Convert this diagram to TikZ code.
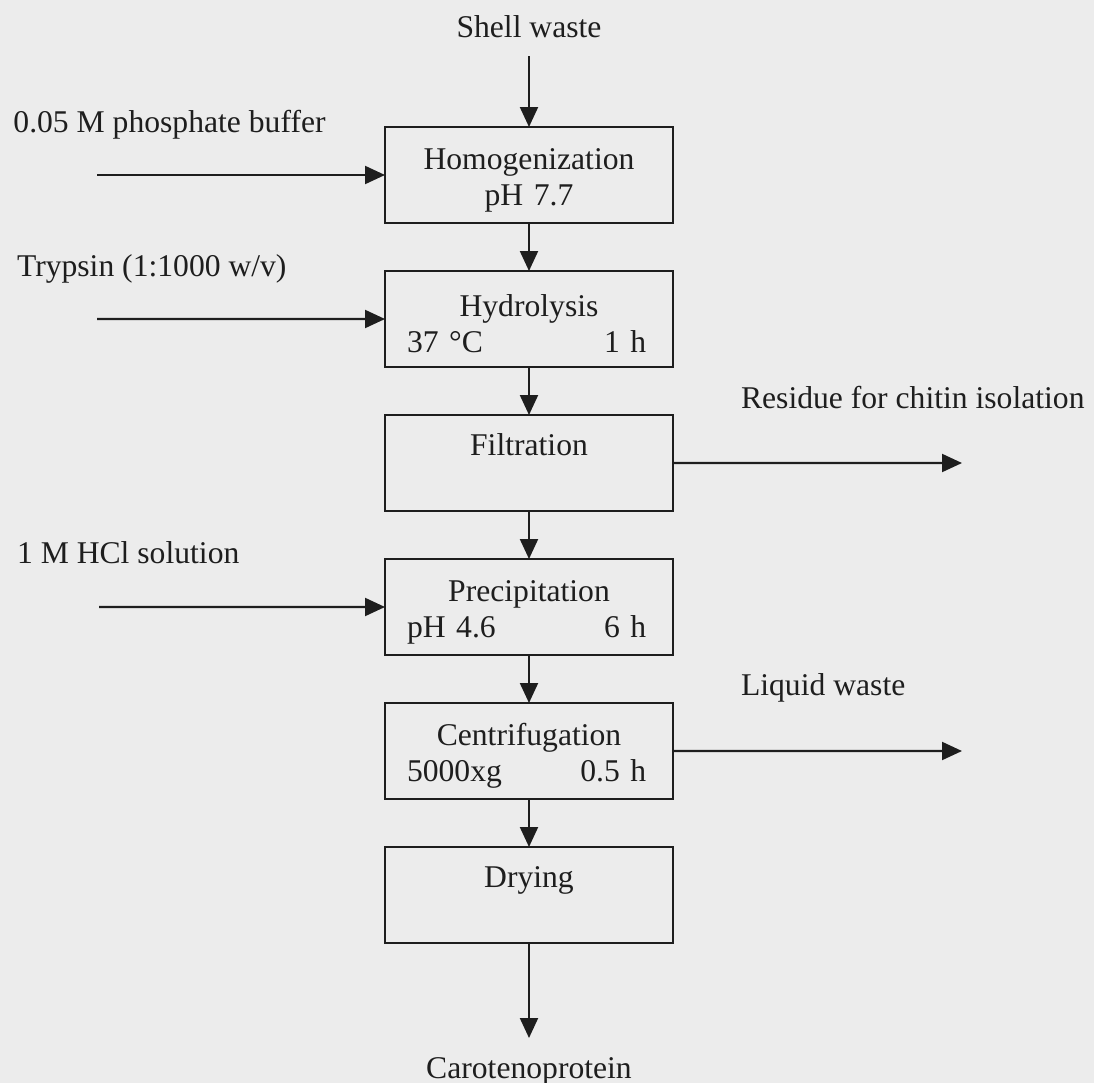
\documentclass[tikz,border=0pt]{standalone}
\usepackage{fontspec}
\setmainfont{Liberation Serif}
\usetikzlibrary{positioning,arrows.meta}
\definecolor{paper}{RGB}{236,236,236}
\definecolor{ink}{RGB}{30,30,30}
\newcommand{\splitrow}[2]{\makebox[\linewidth]{#1\hfill#2\hspace*{0.12cm}}}

\begin{document}
\begin{tikzpicture}[font=\fontsize{22.5}{25.5}\selectfont, node distance=1.2cm, color=ink, line width=1.5pt, >={Triangle[length=0.5cm,width=0.45cm]}]
    \tikzstyle{stage}=[rectangle, draw, line width=1.8pt, outer sep=0pt, minimum width=7.2cm, minimum height=2.4cm, text width=6.1cm, align=center, execute at begin node=\rule{0pt}{0.78cm}]
    \tikzstyle{flow}=[->]
    \tikzstyle{feed}=[inner sep=0pt, anchor=base west]
    \tikzstyle{ends}=[inner sep=0pt, anchor=base]

    \path[use as bounding box, fill=paper] (0,0) rectangle (27.35,-27.075);

% Nodes
    % Process steps
    \node[stage] (homog) at (13.225,-4.375) {Homogenization\\pH 7.7};
    \node[stage, below=of homog] (hydro) {Hydrolysis\\\splitrow{37 °C}{1 h}};
    \node[stage, below=of hydro] (filt) {Filtration\\\strut};
    \node[stage, below=of filt] (prec) {Precipitation\\\splitrow{pH 4.6}{6 h}};
    \node[stage, below=of prec] (cent) {Centrifugation\\\splitrow{5000xg}{0.5 h}};
    \node[stage, below=of cent] (dry) {Drying\\\strut};

    % Start and product
    \node[ends] (shell) at (13.225,-0.925) {Shell waste};
    \node[ends] (carot) at (13.225,-26.95) {Carotenoprotein};

    % Inputs on the left
    \node[feed] (buffer) at (0.31,-3.3) {0.05 M phosphate buffer};
    \node[feed] (trypsin) at (0.4,-6.9) {Trypsin (1:1000 w/v)};
    \node[feed] (hcl) at (0.4,-14.075) {1 M HCl solution};
    \coordinate (bufferin) at (2.425,-4.375);
    \coordinate (trypsinin) at (2.425,-7.975);
    \coordinate (hclin) at (2.475,-15.175);

    % Outputs on the right
    \node[feed] (residue) at (18.5,-10.2) {Residue for chitin isolation};
    \node[feed] (liquid) at (18.5,-17.375) {Liquid waste};
    \coordinate (residueout) at (24.05,-11.575);
    \coordinate (liquidout) at (24.05,-18.775);

% Paths
    % Main line
    \draw[flow, shorten <=0.45cm] (shell) -- (homog);
    \foreach \a/\b in {homog/hydro, hydro/filt, filt/prec, prec/cent, cent/dry}
        \draw[flow] (\a) -- (\b);
    \draw[flow, shorten >=0.45cm] (dry) -- (carot);

    % Inputs
    \draw[flow] (bufferin) -- (homog);
    \draw[flow] (trypsinin) -- (hydro);
    \draw[flow] (hclin) -- (prec);

    % Outputs
    \draw[flow] (filt) -- (residueout);
    \draw[flow] (cent) -- (liquidout);

\end{tikzpicture}
\end{document}
